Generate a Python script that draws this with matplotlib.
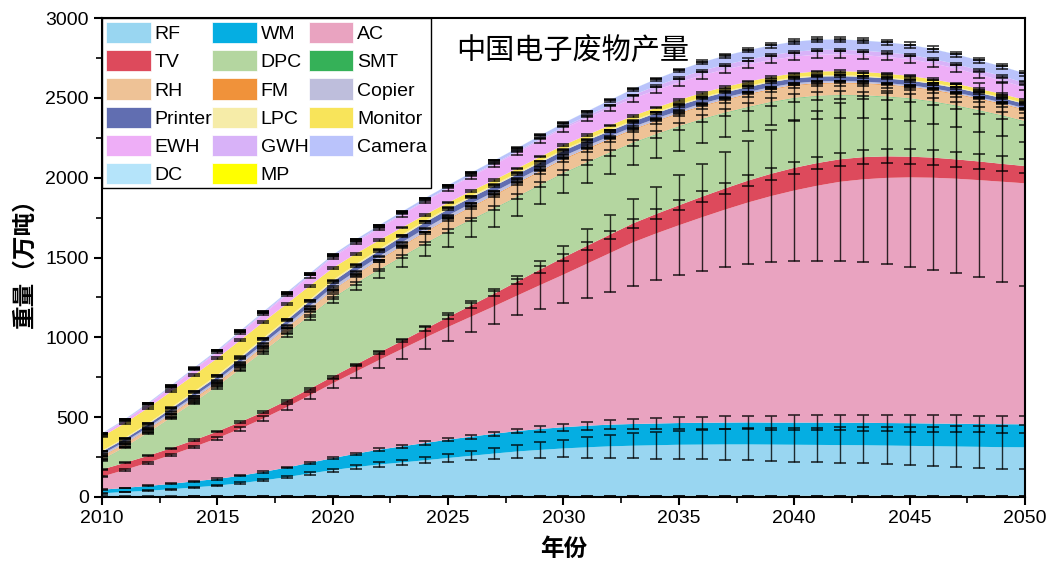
import numpy as np
import matplotlib.pyplot as plt
from matplotlib.patches import Patch
from matplotlib.ticker import MultipleLocator

plt.rcParams['font.family'] = ['Liberation Sans', 'Noto Sans CJK SC']

years = list(range(2010, 2051))

# 各类电子废物产量（万吨），自下而上堆叠
MP = [3,3,3,3,4,4,4,4,4,5, 5,5,5,5,5,6,6,6,6,6, 6,6,6,6,6,7,7,7,7,7, 7,7,7,7,7,7,7,7,7,7, 7]
RF = [20,28,36,45,56,67,82,100,120,142, 163,182,198,211,225,238,252,266,279,289,
      298,305,311,315,318,320,321,322,322,321, 320,319,318,317,315,313,311,309,307,305, 304]
WM = [22,26,30,34,38,42,47,53,60,67, 75,84,93,101,108,115,120,124,128,131,
      133,135,136,136,136,136,137,137,138,138, 139,140,140,141,141,142,142,143,143,144, 144]
AC = [82,113,146,181,216,255,295,335,378,422, 469,514,561,610,659,706,752,799,849,902,
      956,1014,1074,1137,1190,1239,1287,1334,1378,1419, 1454,1484,1510,1525,1536,1540,1540,1535,1528,1519, 1510]
TV = [45,44,43,43,42,42,42,41,41,41, 42,44,47,50,55,62,70,79,88,98,
      107,112,116,119,122,125,129,133,137,140, 142,142,141,139,135,130,126,121,117,112, 108]
DPC = [60,96,142,189,236,281,330,377,417,455, 490,506,516,526,533,535,535,532,529,527,
       527,520,511,503,497,492,484,472,458,447, 435,418,399,384,372,363,349,335,318,301, 278]
SMT = [2,2,2,2,2,2,2,2,3,3, 3,3,3,3,3,3,3,3,3,3, 3,3,3,3,3,3,3,3,3,3, 3,3,3,3,3,3,3,3,3,3, 3]
RH = [18,18,18,19,19,19,22,27,32,38, 45,51,57,62,67,72,75,78,80,81,
      82,81,80,79,79,78,78,77,77,76, 76,75,73,72,70,68,68,68,68,68, 68]
FM = [4,4,4,4,5,5,5,5,4,4, 4,4,5,5,5,5,5,5,6,6, 6,6,6,5,5,5,5,5,5,5, 5,5,5,5,5,5,5,5,5,5, 5]
Copier = [12,13,13,14,14,15,16,17,18,19, 20,21,21,22,22,22,21,20,19,18,
          18,17,16,15,15,14,14,13,12,12, 11,11,10,10,9,9,9,8,8,8, 8]
Printer = [16,17,18,19,21,22,24,26,28,30, 32,34,35,37,38,38,37,36,35,34,
           33,33,33,33,33,33,32,32,31,31, 30,30,30,29,29,28,28,28,27,27, 27]
LPC = [6,7,7,8,9,10,10,10,10,10, 10,10,10,10,10,10,10,9,9,9, 8,8,8,8,7,7,7,7,7,7, 7,7,7,6,6,6,6,6,5,5, 5]
Monitor = [88,92,96,100,103,105,104,100,94,86, 76,66,56,46,38,32,30,29,28,28,
           27,27,27,28,28,28,28,27,27,26, 25,25,25,25,24,24,23,22,21,21, 20]
EWH = [12,16,21,27,33,38,44,49,55,60, 65,70,75,80,84,88,92,96,99,102,
       104,106,108,109,110,110,110,109,108,106, 105,105,105,105,105,105,100,95,89,84, 78]
GWH = [3,3,4,4,5,6,6,7,7,8, 8,8,7,6,5,5,6,7,8,9, 10,13,17,21,25,28,29,30,30,30, 30,30,29,28,28,27,27,27,28,28, 28]
Camera = [5,5,6,6,7,7,8,8,9,9, 10,11,12,13,15,16,17,19,20,22,
          24,28,33,38,43,48,52,56,59,61, 63,64,64,63,63,62,62,61,61,60, 60]
DC = [1,1,1,1,1,1,1,1,1,1, 1,1,1,1,1,1,1,1,1,1, 1,1,1,1,1,1,1,1,1,1, 1,1,1,1,1,1,1,1,1,1, 1]

# 误差（万吨）
MP_err = [1,1,1,1,1,1,1,1,1,1, 2,2,2,2,2,2,2,2,2,2, 2,2,2,2,2,2,2,2,2,2, 2,2,2,2,2,2,2,2,2,2, 2]
RF_err = [3,3,4,4,5,5,6,7,8,9, 10,12,14,17,20,24,28,33,40,48,
          55,66,74,80,84,89,93,97,100,103, 106,109,111,114,117,120,123,127,131,134, 138]
WM_err = [2,2,3,3,3,4,4,5,5,6, 6,7,8,9,10,11,12,13,15,18,
          22,25,27,30,32,35,37,39,42,44, 46,47,48,50,51,52,52,53,53,53, 53]
AC_err = [4,5,6,7,8,10,12,15,18,24, 30,40,50,60,72,85,96,110,125,150,
          180,216,241,270,291,312,335,362,388,415, 440,470,495,520,542,559,578,593,609,626, 644]
TV_err = [3,3,3,3,4,4,4,5,5,6, 6,7,8,9,10,12,14,16,18,20,
          22,24,26,28,30,32,34,35,36,38, 39,40,41,42,44,46,47,47,47,46, 46]
DPC_err = [5,6,7,8,10,12,14,17,20,25, 30,40,50,62,78,95,105,112,117,120,
           121,125,130,136,143,150,150,148,146,144, 142,141,140,140,140,140,138,135,132,129, 126]
SMT_err = [2,2,2,3,3,3,4,4,5,5, 6,7,8,9,10,11,12,13,14,15,
           16,17,18,19,20,21,22,22,23,23, 24,24,24,24,24,24,24,23,23,22, 22]
RH_err = [2,2,2,2,3,3,3,4,4,5, 5,6,6,7,8,8,9,10,10,11, 12,12,13,13,14,14,14,15,15,15, 15,15,15,15,15,15,14,14,14,14, 14]
FM_err = [1,1,1,1,1,1,2,2,2,2, 2,2,2,3,3,3,3,3,3,3, 3,3,3,3,3,3,3,3,3,3, 3,3,3,3,3,3,3,3,3,3, 3]
Copier_err = [2,2,2,2,2,3,3,3,3,3, 4,4,4,4,4,4,4,4,4,4, 4,4,4,4,4,4,4,3,3,3, 3,3,3,3,3,3,3,3,3,3, 3]
Printer_err = [2,2,2,3,3,3,3,4,4,4, 5,5,5,6,6,6,6,6,6,6, 6,6,6,6,6,6,6,6,6,6, 6,6,6,6,6,6,6,6,6,6, 6]
LPC_err = [1,1,1,1,1,1,1,1,1,1, 2,2,2,2,2,2,2,2,2,2, 2,2,2,2,2,2,2,2,2,2, 2,2,2,2,2,2,2,2,2,2, 2]
Monitor_err = [5,5,6,6,6,7,7,7,7,7, 7,7,6,6,6,5,5,5,5,5, 5,5,5,5,5,5,5,5,5,5, 5,5,5,5,5,5,5,5,5,5, 5]
EWH_err = [2,2,3,3,4,5,5,6,7,8, 9,10,11,12,13,14,15,16,17,18,
           19,20,20,21,21,22,22,22,22,22, 22,22,22,22,22,22,21,20,19,18, 17]
GWH_err = [1,1,1,1,1,1,1,1,1,2, 2,2,2,2,2,2,2,2,2,3, 3,3,4,4,5,6,6,7,7,7, 7,7,7,7,7,7,7,7,7,7, 7]
Camera_err = [1,1,1,1,1,2,2,2,2,2, 3,3,3,3,4,4,4,5,5,6, 6,7,8,9,10,11,12,13,14,15,
              16,16,17,17,17,17,17,16,16,16, 16]
DC_err = [1,1,1,1,1,1,1,1,1,1, 1,1,1,1,1,1,1,1,1,1, 1,1,1,1,1,1,1,1,1,1, 1,1,1,1,1,1,1,1,1,1, 1]

names = ['MP', 'RF', 'WM', 'AC', 'TV', 'DPC', 'SMT', 'RH', 'FM', 'Copier',
         'Printer', 'LPC', 'Monitor', 'EWH', 'GWH', 'Camera', 'DC']
values = [MP, RF, WM, AC, TV, DPC, SMT, RH, FM, Copier,
          Printer, LPC, Monitor, EWH, GWH, Camera, DC]
errors = [MP_err, RF_err, WM_err, AC_err, TV_err, DPC_err, SMT_err, RH_err, FM_err, Copier_err,
          Printer_err, LPC_err, Monitor_err, EWH_err, GWH_err, Camera_err, DC_err]
colors = {
    'RF': '#99D6F1', 'WM': '#05AEE2', 'AC': '#E9A3C0', 'TV': '#DD4A5C',
    'DPC': '#B4D6A0', 'SMT': '#35B158', 'RH': '#EEC296', 'FM': '#F0923A',
    'Copier': '#BEBEDC', 'Printer': '#616EB1', 'LPC': '#F6ECA8', 'Monitor': '#F8E45A',
    'EWH': '#EEAEF7', 'GWH': '#D8B2F8', 'Camera': '#BAC3FB', 'DC': '#B5E4FA', 'MP': '#FFFF00',
}

fig = plt.figure(figsize=(10.51, 5.66), dpi=100)
ax = fig.add_axes([0.097, 0.122, 0.8783, 0.846])

ax.stackplot(years, *values, colors=[colors[n] for n in names], linewidth=0)

cum = np.cumsum(np.array(values, dtype=float), axis=0)
for top, err in zip(cum, errors):
    ax.errorbar(years, top, yerr=err, fmt='none', ecolor='black', elinewidth=1.0,
                capsize=4, capthick=1.2, alpha=0.8, zorder=3)

ax.set_xlim(2010, 2050)
ax.set_ylim(0, 3000)
ax.xaxis.set_major_locator(MultipleLocator(5))
ax.xaxis.set_minor_locator(MultipleLocator(2.5))
ax.yaxis.set_major_locator(MultipleLocator(500))
ax.yaxis.set_minor_locator(MultipleLocator(250))
ax.tick_params(which='major', direction='out', length=6, width=1.5, labelsize=14)
ax.tick_params(which='minor', direction='out', length=4, width=1.2)
for s in ax.spines.values():
    s.set_linewidth(1.5)

ax.set_xlabel('年份', fontsize=17, fontweight='bold', labelpad=8)
ax.set_ylabel('重量（万吨）', fontsize=17, fontweight='bold', labelpad=6)

ax.text(0.51, 0.934, '中国电子废物产量', transform=ax.transAxes, fontsize=21,
        ha='center', va='center')

# 图例按行排列：RF WM AC / TV DPC SMT / ...
legend_order = ['RF', 'TV', 'RH', 'Printer', 'EWH', 'DC',
                'WM', 'DPC', 'FM', 'LPC', 'GWH', 'MP',
                'AC', 'SMT', 'Copier', 'Monitor', 'Camera']
handles = [Patch(facecolor=colors[n], edgecolor='white', linewidth=0.5, label=n) for n in legend_order]
leg = ax.legend(handles=handles, loc='upper left', ncol=3, fontsize=14, frameon=True,
                fancybox=False, borderaxespad=0, borderpad=0.2, handlelength=2.3,
                handleheight=1.3, handletextpad=0.2, labelspacing=0.36, columnspacing=0.0)
leg.get_frame().set_edgecolor('black')
leg.get_frame().set_linewidth(1.0)
leg.get_frame().set_alpha(1)

fig.savefig('out.png', dpi=100)
